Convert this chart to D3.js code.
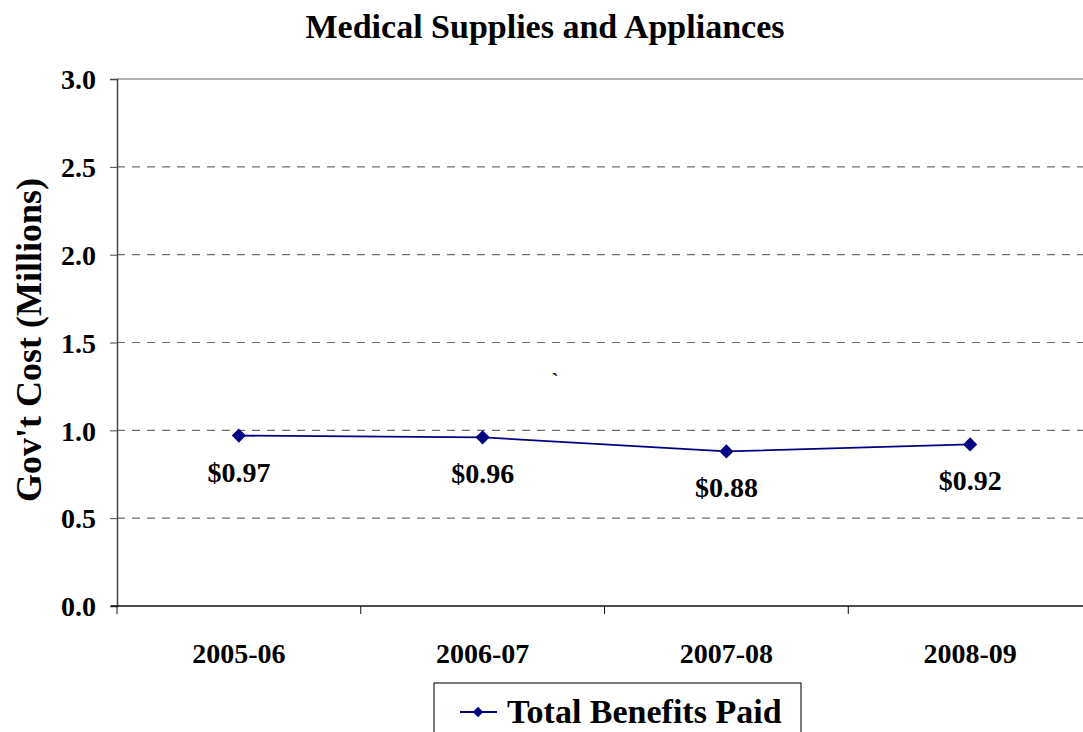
<!DOCTYPE html>
<html>
<head>
  <meta charset="utf-8">
  <title>Medical Supplies and Appliances</title>
  <style>
    html, body { margin: 0; padding: 0; background: #fff; overflow: hidden; }
    svg text { font-family: "Liberation Serif", "Times New Roman", serif; font-weight: bold; fill: #000; }
  </style>
</head>
<body>
  <div id="chart"></div>
  <script src="https://d3js.org/d3.v7.min.js"></script>
  <script>
    // Chart data
    const years = ["2005-06", "2006-07", "2007-08", "2008-09"];
    const benefits = [0.97, 0.96, 0.88, 0.92];
    const yTicks = [0, 0.5, 1.0, 1.5, 2.0, 2.5, 3.0];
    const seriesName = "Total Benefits Paid";

    const W = 1083, H = 732;
    const plot = {left: 117, right: 1092, top: 79, bottom: 606};

    const svg = d3.select("#chart").append("svg")
      .attr("width", W)
      .attr("height", H);

    const x = d3.scaleBand().domain(years).range([plot.left, plot.right]);
    const y = d3.scaleLinear().domain([0, 3]).range([plot.bottom, plot.top]);

    // Title
    svg.append("text")
      .attr("x", 545).attr("y", 38)
      .attr("text-anchor", "middle")
      .style("font-size", "34px")
      .text("Medical Supplies and Appliances");

    // Y axis title
    svg.append("text")
      .attr("transform", "translate(41,340) rotate(-90)")
      .attr("text-anchor", "middle")
      .style("font-size", "36px")
      .text("Gov't Cost (Millions)");

    // Gridlines (dashed), top one solid gray
    svg.selectAll("line.grid")
      .data(yTicks.filter(d => d > 0))
      .enter().append("line")
      .attr("class", "grid")
      .attr("x1", plot.left).attr("x2", W)
      .attr("y1", d => y(d)).attr("y2", d => y(d))
      .attr("stroke", d => d === 3 ? "#999" : "#6e6e6e")
      .attr("stroke-width", d => d === 3 ? 1.5 : 1.2)
      .attr("stroke-dasharray", d => d === 3 ? null : "8,7");

    // Y axis
    const yAxis = svg.append("g")
      .attr("transform", "translate(" + plot.left + ",0)")
      .call(d3.axisLeft(y).tickValues(yTicks).tickFormat(d3.format(".1f")).tickSize(7).tickPadding(14));
    yAxis.select(".domain").attr("stroke", "#444").attr("stroke-width", 1.5);
    yAxis.selectAll(".tick line").attr("stroke", "#444");
    yAxis.selectAll("text").style("font-size", "28px").attr("dy", "0.35em");

    // X axis
    const xAxis = svg.append("g")
      .attr("transform", "translate(0," + plot.bottom + ")");
    xAxis.append("line")
      .attr("x1", plot.left - 6).attr("x2", W)
      .attr("y1", 0).attr("y2", 0)
      .attr("stroke", "#111").attr("stroke-width", 1.5);
    xAxis.selectAll("line.xtick")
      .data(years)
      .enter().append("line")
      .attr("class", "xtick")
      .attr("x1", d => x(d)).attr("x2", d => x(d))
      .attr("y1", 0).attr("y2", 8)
      .attr("stroke", "#111");
    xAxis.selectAll("text")
      .data(years)
      .enter().append("text")
      .attr("x", d => x(d) + x.bandwidth() / 2)
      .attr("y", 57)
      .attr("text-anchor", "middle")
      .style("font-size", "28px")
      .text(d => d);

    // Series line
    const cx = (d, i) => x(years[i]) + x.bandwidth() / 2;
    svg.append("path")
      .datum(benefits)
      .attr("fill", "none")
      .attr("stroke", "#000080")
      .attr("stroke-width", 1.8)
      .attr("d", d3.line().x(cx).y(d => y(d)));

    const diamond = d3.symbol().type(d3.symbolSquare).size(100);
    svg.selectAll("path.pt")
      .data(benefits)
      .enter().append("path")
      .attr("class", "pt")
      .attr("d", diamond)
      .attr("transform", (d, i) => "translate(" + cx(d, i) + "," + y(d) + ") rotate(45)")
      .attr("fill", "#000080");

    // Data labels
    svg.selectAll("text.lbl")
      .data(benefits)
      .enter().append("text")
      .attr("class", "lbl")
      .attr("x", cx)
      .attr("y", d => y(d) + 46)
      .attr("text-anchor", "middle")
      .style("font-size", "28px")
      .text(d => "$" + d.toFixed(2));

    // stray mark in the original
    svg.append("text")
      .attr("x", 555).attr("y", 388)
      .attr("text-anchor", "middle")
      .style("font-size", "20px")
      .text("`");

    // Legend
    const lg = svg.append("g").attr("transform", "translate(434,683)");
    lg.append("rect")
      .attr("x", 0).attr("y", 0)
      .attr("width", 367).attr("height", 60)
      .attr("fill", "#fff").attr("stroke", "#222").attr("stroke-width", 1.2);
    lg.append("line")
      .attr("x1", 26).attr("x2", 63).attr("y1", 29).attr("y2", 29)
      .attr("stroke", "#000080").attr("stroke-width", 2);
    lg.append("path")
      .attr("d", d3.symbol().type(d3.symbolSquare).size(55))
      .attr("transform", "translate(44,29) rotate(45)")
      .attr("fill", "#000080");
    lg.append("text")
      .attr("x", 73).attr("y", 40)
      .style("font-size", "34px")
      .text(seriesName);
  </script>
</body>
</html>
